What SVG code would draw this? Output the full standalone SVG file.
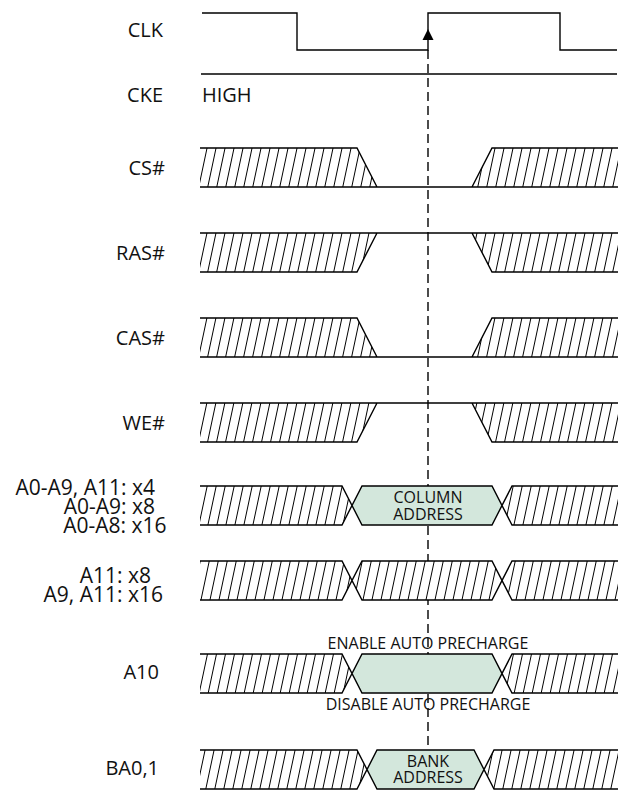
<svg xmlns="http://www.w3.org/2000/svg" width="618" height="790" viewBox="0 0 618 790">
<defs>
<pattern id="hatch" patternUnits="userSpaceOnUse" width="9" height="10" patternTransform="skewX(-12)">
<rect x="-1" y="-1" width="11" height="12" fill="#fff"/>
<line x1="4.5" y1="-1" x2="4.5" y2="11" stroke="#000" stroke-width="1"/>
</pattern>
<style>
.sig{fill:none;stroke:#000;stroke-width:1.4;stroke-linejoin:miter}
.hf{fill:url(#hatch);stroke:none}
.hex{fill:#d3e7dc;stroke:none}
.lbl{font-family:"Open Sans","Noto Sans",sans-serif;font-size:20px;fill:#111;text-anchor:end}
.lbl2{font-family:"Open Sans","Noto Sans",sans-serif;font-size:21px;fill:#111;text-anchor:end}
.sm{font-family:"Open Sans","Noto Sans",sans-serif;font-size:16px;fill:#111;text-anchor:middle}
.ref{fill:none;stroke:#000;stroke-width:1.4;stroke-dasharray:9 5}
</style>
</defs>
<rect width="618" height="790" fill="#fff"/>
<g id="connectors">
<line class="ref" x1="428" y1="50" x2="428" y2="790"/>
</g>
<g id="clk">
<text class="lbl" x="163" y="37">CLK</text>
<path class="sig" d="M202,13H297V50H428V13H560V50H617"/>
<polygon points="428,29 422.5,40 433.5,40" fill="#000"/>
</g>
<g id="cke">
<text class="lbl" x="163" y="102">CKE</text>
<text class="lbl" x="202" y="102" style="text-anchor:start">HIGH</text>
<path class="sig" d="M201,74H617"/>
</g>
<g id="cs">
<text class="lbl" x="165" y="175">CS#</text>
<path class="hf" d="M200,148H357L377,187H200Z M492,148H618V187H472Z"/>
<path class="sig" d="M200,148H357L377,187 M200,187H618 M472,187L492,148H618"/>
</g>
<g id="ras">
<text class="lbl" x="165" y="260">RAS#</text>
<path class="hf" d="M200,233H377L357,272H200Z M472,233H618V272H492Z"/>
<path class="sig" d="M200,233H618 M200,272H357L377,233 M472,233L492,272H618"/>
</g>
<g id="cas">
<text class="lbl" x="165" y="345">CAS#</text>
<path class="hf" d="M200,318H357L377,357H200Z M492,318H618V357H472Z"/>
<path class="sig" d="M200,318H357L377,357 M200,357H618 M472,357L492,318H618"/>
</g>
<g id="we">
<text class="lbl" x="165" y="430">WE#</text>
<path class="hf" d="M200,403H377L357,442H200Z M472,403H618V442H492Z"/>
<path class="sig" d="M200,403H618 M200,442H357L377,403 M472,403L492,442H618"/>
</g>
<g id="addr">
<text class="lbl2" x="155" y="495">A0-A9, A11: x4</text>
<text class="lbl2" x="155" y="514">A0-A9: x8</text>
<text class="lbl2" x="166.5" y="533">A0-A8: x16</text>
<path class="hf" d="M200,486H342L352,505.5L342,525H200Z M512,486H618V525H512L502,505.5Z"/>
<path class="hex" d="M362,486H492L502,505.5L492,525H362L352,505.5Z"/>
<path class="sig" d="M200,486H342L362,525H492L512,486H618 M200,525H342L362,486H492L512,525H618"/>
<text class="sm" x="428" y="503">COLUMN</text>
<text class="sm" x="428" y="520">ADDRESS</text>
</g>
<g id="a11">
<text class="lbl2" x="151" y="583">A11: x8</text>
<text class="lbl2" x="163" y="602">A9, A11: x16</text>
<path class="hf" d="M200,561H342L352,580.5L362,561H492L502,580.5L512,561H618V600H512L502,580.5L492,600H362L352,580.5L342,600H200Z"/>
<path class="sig" d="M200,561H342L362,600H492L512,561H618 M200,600H342L362,561H492L512,600H618"/>
</g>
<g id="a10">
<text class="lbl" x="159" y="679">A10</text>
<text class="sm" x="428" y="649">ENABLE AUTO PRECHARGE</text>
<path class="hf" d="M200,654H342L352,673.5L342,693H200Z M512,654H618V693H512L502,673.5Z"/>
<path class="hex" d="M362,654H492L502,673.5L492,693H362L352,673.5Z"/>
<path class="sig" d="M200,654H342L362,693H492L512,654H618 M200,693H342L362,654H492L512,693H618"/>
<text class="sm" x="428" y="710">DISABLE AUTO PRECHARGE</text>
</g>
<g id="ba">
<text class="lbl" x="159" y="775">BA0,1</text>
<path class="hf" d="M200,750H357L367,769.5L357,789H200Z M494,750H618V789H494L484,769.5Z"/>
<path class="hex" d="M377,750H474L484,769.5L474,789H377L367,769.5Z"/>
<path class="sig" d="M200,750H357L377,789H474L494,750H618 M200,789H357L377,750H474L494,789H618"/>
<text class="sm" x="428" y="767">BANK</text>
<text class="sm" x="428" y="783">ADDRESS</text>
</g>
</svg>
